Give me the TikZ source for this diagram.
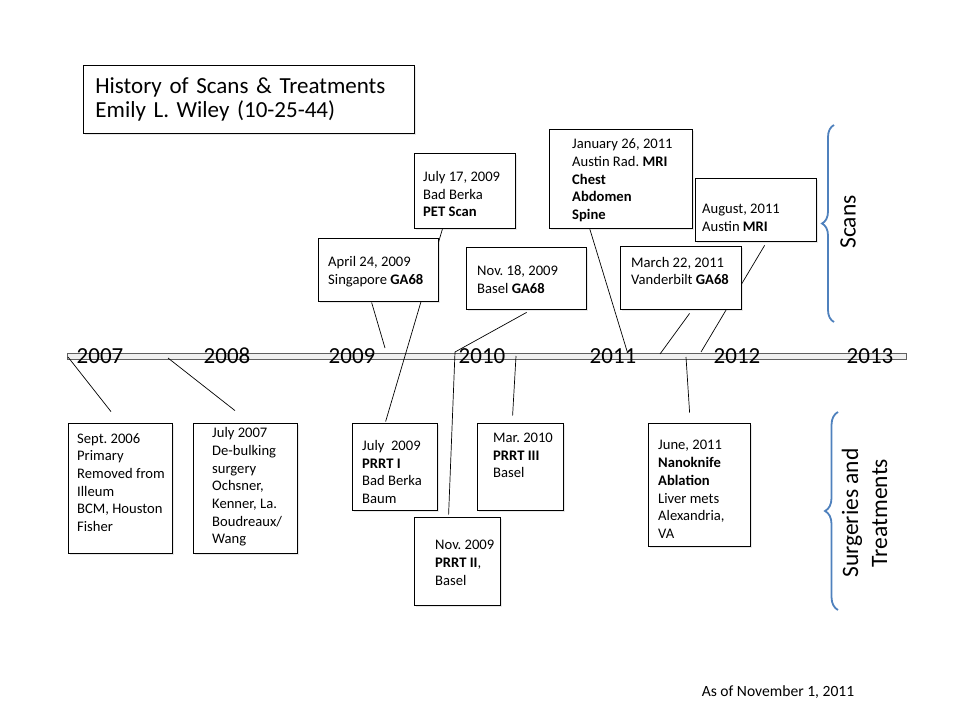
\documentclass[tikz,border=0pt]{standalone}
\usepackage{fontspec}
\setmainfont{Carlito}
\frenchspacing
\usetikzlibrary{decorations.pathreplacing,shadows}
\pgfdeclarelayer{bg}
\pgfsetlayers{bg,main}
\definecolor{braceblue}{HTML}{4F81BD}
\tikzset{
  evtbox/.style={draw, fill=white, line width=0.8pt, inner sep=0pt,
    drop shadow={opacity=0.18, shadow xshift=1.5pt, shadow yshift=-1.5pt}},
  evttxt/.style={anchor=west, align=left, inner sep=0pt, font=\fontsize{14.6}{17.7}\selectfont},
  axisbar/.style={draw=gray!75!black, fill=gray!12, line width=0.8pt, inner sep=0pt,
    minimum width=839pt, minimum height=6pt},
  link/.style={line width=0.7pt},
  yearlbl/.style={font=\fontsize{23}{26}\selectfont, inner sep=0pt},
  sidelbl/.style={font=\fontsize{23.5}{29}\selectfont, rotate=90, align=center},
  bracket/.style={decorate, draw=braceblue, line width=1.8pt}
}
\begin{document}
\begin{tikzpicture}[x=1pt,y=-1pt]
\useasboundingbox (0,0) rectangle (960,720);

\node[evtbox, anchor=north west, minimum height=68pt, inner xsep=12pt, text width=307pt, align=left,
  font=\fontsize{23}{24}\selectfont] (title) at (83,65) {History of Scans \& Treatments\\Emily L. Wiley (10-25-44)};

\foreach \n/\cx/\cy/\w/\h/\tx/\ty/\txt in {
apr09/378/269.5/120/63/328/272/{April 24, 2009\\Singapore \textbf{GA68}},
jul17/464.5/190.5/101/75/423/194/{July 17, 2009\\Bad Berka\\\textbf{PET Scan}},
nov18/526/278/120/62/477/279.5/{Nov. 18, 2009\\Basel \textbf{GA68}},
jan11/620.5/178.5/143/99/572/180.5/{January 26, 2011\\Austin Rad. \textbf{MRI}\\\textbf{Chest}\\\textbf{Abdomen}\\\textbf{Spine}},
aug11/755.5/209.5/121/63/702/217.5/{August, 2011\\Austin \textbf{MRI}},
mar11/680.5/277.5/121/63/631/271/{March 22, 2011\\Vanderbilt \textbf{GA68}},
sep06/120/488/104/130/77/482.5/{Sept. 2006\\Primary\\Removed from\\Illeum\\BCM, Houston\\Fisher},
jul07/245/488/104/130/212/487/{July 2007\\De-bulking\\surgery\\Ochsner,\\Kenner, La.\\Boudreaux/\\Wang},
jul09/394.5/466.5/85/87/362/472/{July~ 2009\\\textbf{PRRT I}\\Bad Berka\\Baum},
nov09/457/561/86/88/435/563/{Nov. 2009\\\textbf{PRRT II},\\Basel},
mar10/520/466.5/86/87/493/455.5/{Mar. 2010\\\textbf{PRRT III}\\Basel},
jun11/699/484.5/102/123/658/489.5/{June, 2011\\\textbf{Nanoknife}\\\textbf{Ablation}\\Liver mets\\Alexandria,\\VA}%
}{
  \node[evtbox, minimum width=\w pt, minimum height=\h pt] (\n) at (\cx,\cy) {};
  \node[evttxt] (\n-t) at (\tx,\ty) {\txt};
}

\begin{pgfonlayer}{bg}
\node[axisbar] (axis) at (486.5,356) {};
\coordinate (tl06) at (68,357);
\coordinate (tl07) at (168,358);
\coordinate (tl09a) at (385,348);
\coordinate (tl09b) at (455,352);
\coordinate (tl10) at (516,356);
\coordinate (tl11a) at (627,351);
\coordinate (tl11b) at (660,354);
\coordinate (tl11c) at (701,352);
\coordinate (tl11d) at (686,357);

\draw[link] (tl06) -- ([shift={(-9,-11)}]sep06.north);
\draw[link] (tl07) -- ([shift={(-10,-12)}]jul07.north);
\draw[link] ([shift={(54,1)}]apr09.south west) -- (tl09a);
\draw[link] ([shift={(29,0)}]jul17.south west) -- ([shift={(34,-1)}]jul09.north west);
\draw[link] ([shift={(61,3)}]nov18.south west) -- (tl09b);
\draw[link] (tl09b) -- ([shift={(35,-2)}]nov09.north west);
\draw[link] (tl10) -- ([shift={(36,-7)}]mar10.north west);
\draw[link] ([shift={(41,0)}]jan11.south west) -- (tl11a);
\draw[link] ([shift={(70,4)}]mar11.south west) -- (tl11b);
\draw[link] ([shift={(70,4)}]aug11.south west) -- (tl11c);
\draw[link] (tl11d) -- ([shift={(42,-10)}]jun11.north west);
\end{pgfonlayer}

\foreach \yr/\x in {2007/100,2008/227,2009/352,2010/482,2011/613,2012/737,2013/870}
  \node[yearlbl] (yr\yr) at (\x,356) {\yr};

%braces
\draw[bracket, decoration={brace, amplitude=12pt}] (834,322) -- (834,125);
\draw[bracket, decoration={brace, amplitude=13pt}] (838,610) -- (838,412);
\node[sidelbl] (scanlbl) at (848,222) {Scans};
\node[sidelbl] (surglbl) at (864.5,513) {Surgeries and\\Treatments};

\node[font=\fontsize{15.6}{18}\selectfont] (asof) at (778,692) {As of November 1, 2011};
\end{tikzpicture}
\end{document}
